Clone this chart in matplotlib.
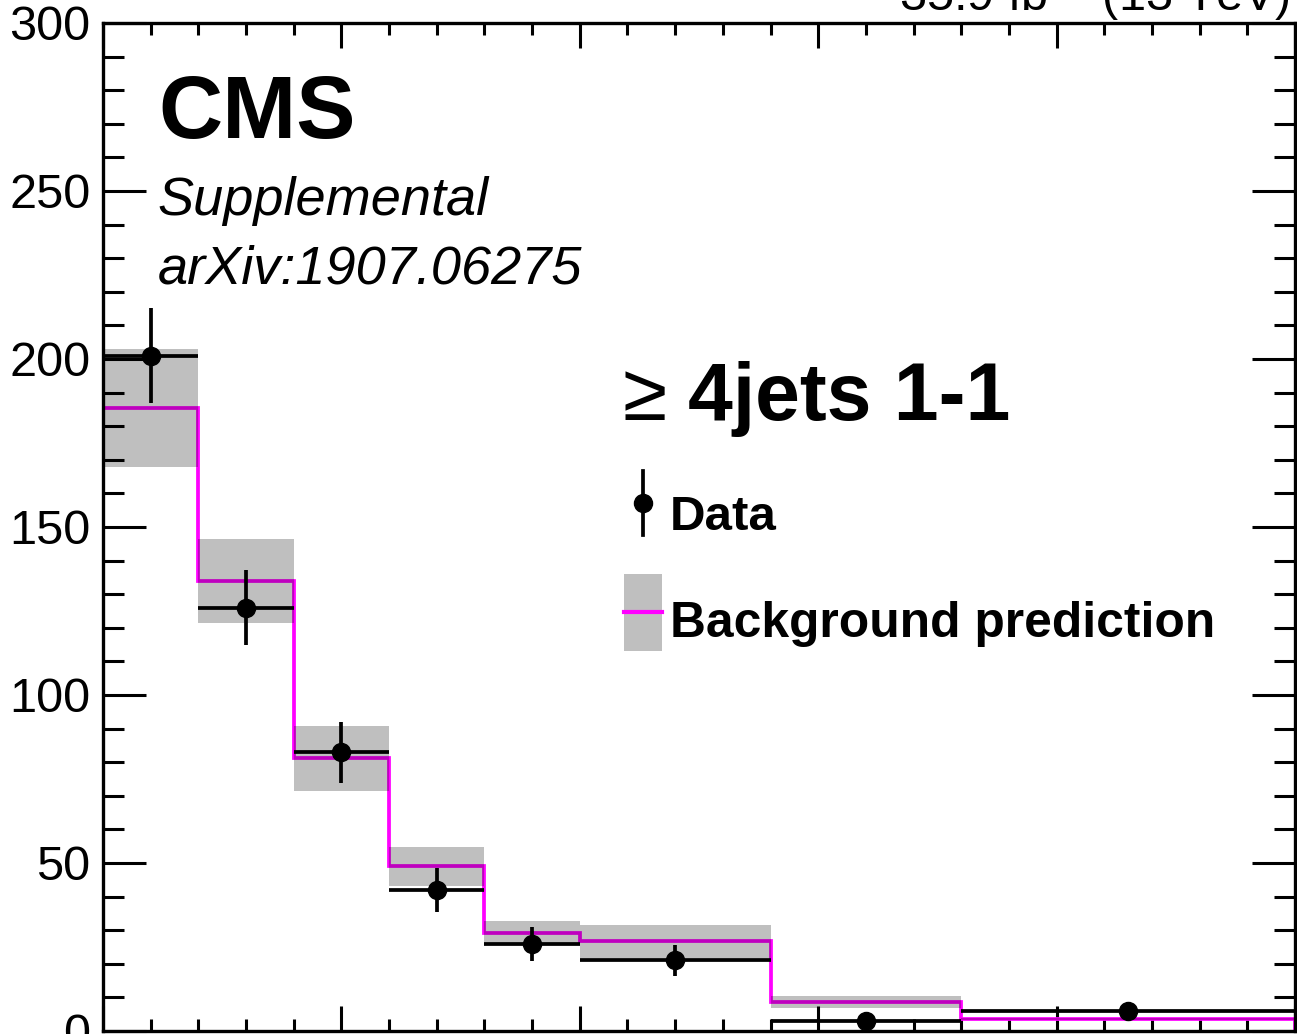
import numpy as np
import matplotlib
matplotlib.use("Agg")
import matplotlib.pyplot as plt
from matplotlib.ticker import MultipleLocator
from matplotlib.patches import Rectangle
from matplotlib.lines import Line2D

plt.rcParams['font.family'] = ['Liberation Sans', 'DejaVu Sans']
plt.rcParams['mathtext.fontset'] = 'custom'
plt.rcParams['mathtext.rm'] = 'Liberation Sans'

# bin edges (x tick labels are cropped off in the reference)
edges = [0, 40, 80, 120, 160, 200, 280, 360, 500]
data = np.array([201, 126, 83, 42, 26, 21, 3, 6])
bkg = np.array([185.4, 133.9, 81.3, 49.2, 29.2, 26.9, 8.7, 3.7])
bkg_up = np.array([203.0, 146.4, 90.8, 54.8, 32.7, 31.5, 10.4, 4.0])
bkg_down = np.array([167.9, 121.3, 71.5, 43.2, 25.6, 21.7, 6.8, 3.3])

edges = np.array(edges, dtype=float)
centers = 0.5 * (edges[1:] + edges[:-1])
halfw = 0.5 * (edges[1:] - edges[:-1])

fig = plt.figure(figsize=(12.97, 10.34), dpi=100)
ax = fig.add_axes([103 / 1297, 3 / 1034, 1192 / 1297, 1008 / 1034])

ax.stairs(bkg, edges, color='#ff00ff', lw=2.7, zorder=2)
ax.stairs(bkg_up, edges, baseline=bkg_down, fill=True, color='black',
          alpha=0.25, lw=0, zorder=3)
ax.errorbar(centers, data, xerr=halfw, yerr=np.sqrt(data), fmt='o',
            color='black', ms=13, elinewidth=2.7, capsize=0, zorder=5)

ax.set_xlim(0, 500)
ax.set_ylim(0, 300)
ax.xaxis.set_major_locator(MultipleLocator(100))
ax.xaxis.set_minor_locator(MultipleLocator(20))
ax.yaxis.set_major_locator(MultipleLocator(50))
ax.yaxis.set_minor_locator(MultipleLocator(10))
ax.tick_params(which='both', direction='in', top=True, right=True, width=2.2)
ax.tick_params(axis='y', which='major', length=31, labelsize=35, pad=9)
ax.tick_params(axis='y', which='minor', length=15)
ax.tick_params(axis='x', which='major', length=18, labelbottom=False)
ax.tick_params(axis='x', which='minor', length=8.6)
for s in ax.spines.values():
    s.set_linewidth(2.4)

# labels
ax.text(0.0461, 0.886, 'CMS', transform=ax.transAxes, fontsize=64,
        fontweight='bold', va='baseline')
ax.text(0.0461, 0.8095, 'Supplemental', transform=ax.transAxes, fontsize=39,
        style='italic', va='baseline')
ax.text(0.0461, 0.742, 'arXiv:1907.06275', transform=ax.transAxes, fontsize=39,
        style='italic', va='baseline')
ax.text((622 - 103) / 1192, 0.606, '\u2265', transform=ax.transAxes,
        fontsize=58, va='baseline')
ax.text((688 - 103) / 1192, 0.606, '4jets 1-1', transform=ax.transAxes,
        fontsize=58, fontweight='bold', va='baseline')
fig.text(1290 / 1297, 1 - 10 / 1034, '35.9 fb$^{-1}$ (13 TeV)', fontsize=35,
         ha='right', va='baseline')

# legend drawn by hand
ax.add_line(Line2D([0.453, 0.453], [0.492, 0.5556], color='black', lw=2.7,
                   transform=ax.transAxes))
ax.add_line(Line2D([0.453], [0.524], marker='o', ms=13, color='black',
                   transform=ax.transAxes))
ax.add_patch(Rectangle((0.437, 0.377), 0.032, 0.076, color='black', alpha=0.25,
                       lw=0, transform=ax.transAxes))
ax.add_line(Line2D([0.437, 0.469], [0.4157, 0.4157], color='#ff00ff', lw=3,
                   transform=ax.transAxes))
ax.text((670 - 103) / 1192, 0.497, 'Data', transform=ax.transAxes,
        fontsize=35.5, fontweight='bold', va='baseline')
ax.text((670 - 103) / 1192, 0.391, 'Background prediction',
        transform=ax.transAxes, fontsize=35.8, fontweight='bold', va='baseline')

fig.savefig('out.png', dpi=100)
